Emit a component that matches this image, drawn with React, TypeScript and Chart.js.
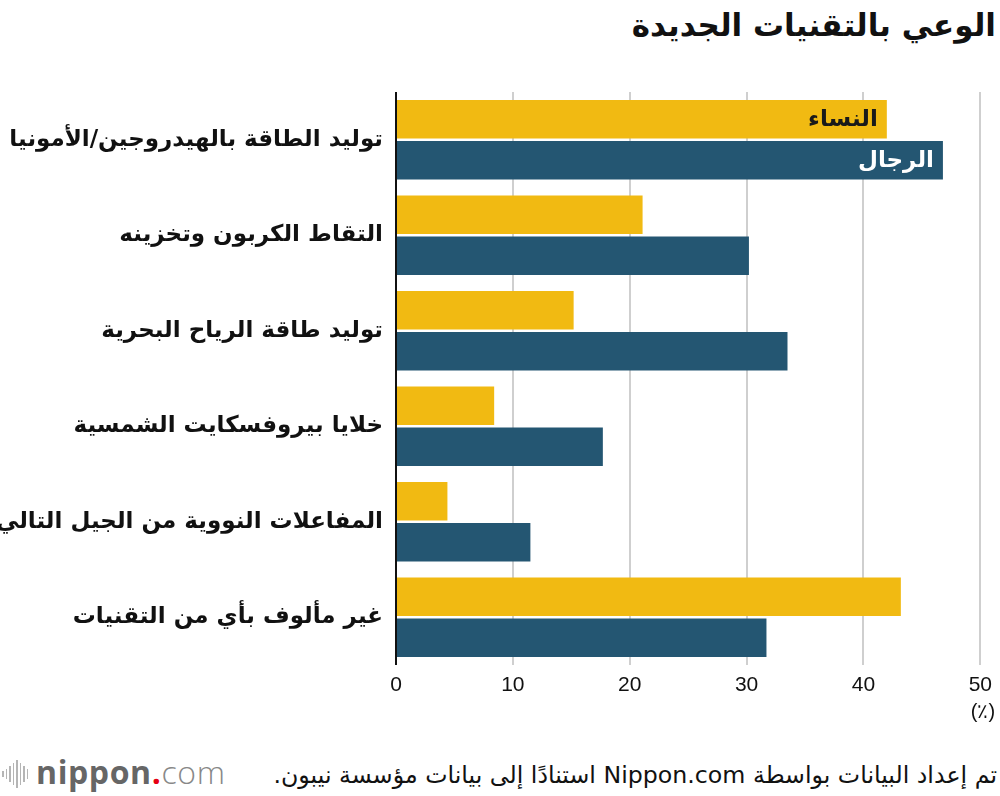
import React, { useEffect, useRef } from "react";
import { Chart, registerables } from "chart.js";

Chart.register(...registerables);

const categories = [
  "توليد الطاقة بالهيدروجين/الأمونيا",
  "التقاط الكربون وتخزينه",
  "توليد طاقة الرياح البحرية",
  "خلايا بيروفسكايت الشمسية",
  "المفاعلات النووية من الجيل التالي",
  "غير مألوف بأي من التقنيات",
];
const seriesNames = ["النساء", "الرجال"];
const womenValues = [42.0, 21.1, 15.2, 8.4, 4.4, 43.2];
const menValues = [46.8, 30.2, 33.5, 17.7, 11.5, 31.7];
const xTickValues = [0, 10, 20, 30, 40, 50];

const YELLOW = "#F1BA12";
const BLUE = "#245672";

const CANVAS_W = 1000;
const CANVAS_H = 720;
const AREA_LEFT = 396;
const AREA_TOP = 92;
const AREA_BOTTOM = 665;

const barLabelPlugin = {
  id: "barLabels",
  afterDatasetsDraw(chart: any) {
    const ctx = chart.ctx;
    ctx.save();
    ctx.font = "bold 23px 'DejaVu Sans'";
    ctx.textAlign = "right";
    ctx.textBaseline = "middle";
    chart.data.datasets.forEach((ds: any, i: number) => {
      const meta = chart.getDatasetMeta(i);
      const bar = meta.data[0];
      if (!bar) return;
      ctx.fillStyle = i === 0 ? "#1a1a1a" : "#ffffff";
      ctx.fillText(ds.label, bar.x - 9, bar.y + 1);
    });
    ctx.restore();
  },
};

function BarChart() {
  const ref = useRef<HTMLCanvasElement>(null);
  useEffect(() => {
    if (!ref.current) return;
    const chart = new Chart(ref.current, {
      type: "bar",
      data: {
        labels: categories,
        datasets: [
          {
            label: seriesNames[0],
            data: womenValues,
            backgroundColor: YELLOW,
            barPercentage: 0.94,
            categoryPercentage: 0.86,
          },
          {
            label: seriesNames[1],
            data: menValues,
            backgroundColor: BLUE,
            barPercentage: 0.94,
            categoryPercentage: 0.86,
          },
        ],
      },
      options: {
        indexAxis: "y",
        animation: false,
        responsive: false,
        devicePixelRatio: 1,
        layout: { padding: { top: AREA_TOP, right: 16, left: 0, bottom: 0 } },
        plugins: {
          legend: { display: false },
          tooltip: { enabled: false },
          title: { display: false },
        },
        scales: {
          x: {
            type: "linear",
            position: "bottom",
            min: 0,
            max: 50,
            afterBuildTicks: (scale: any) => {
              scale.ticks = xTickValues.map((v) => ({ value: v }));
            },
            afterFit: (scale: any) => {
              scale.height = CANVAS_H - AREA_BOTTOM;
            },
            ticks: {
              color: "#111",
              padding: 8,
              font: { family: "'Liberation Sans', Arial", size: 21 },
              maxRotation: 0,
            },
            grid: {
              drawTicks: false,
              color: (c: any) => (c.tick && c.tick.value === 0 ? "#111" : "#cfcfcf"),
              lineWidth: 2,
            },
            border: { display: false },
          },
          y: {
            type: "category",
            afterFit: (scale: any) => {
              scale.width = AREA_LEFT;
            },
            ticks: {
              color: "#111",
              padding: 13,
              font: { family: "'DejaVu Sans'", size: 23, weight: "bold" },
            },
            grid: { display: false, drawTicks: false },
            border: { display: false },
          },
        },
      },
      plugins: [barLabelPlugin],
    } as any);
    return () => chart.destroy();
  }, []);
  return (
    <canvas
      ref={ref}
      width={CANVAS_W}
      height={CANVAS_H}
      style={{ position: "absolute", left: 0, top: 0, width: CANVAS_W, height: CANVAS_H }}
    />
  );
}

const logoBars = [6, 10, 16, 22, 28, 22, 16, 10];

export default function App() {
  return (
    <div
      style={{
        position: "absolute",
        left: 0,
        top: 0,
        width: 1000,
        height: 796,
        background: "#fff",
        overflow: "hidden",
        fontFamily: "'DejaVu Sans', sans-serif",
      }}
    >
      <div
        dir="rtl"
        style={{
          position: "absolute",
          right: 4,
          top: 3,
          fontSize: 31,
          fontWeight: "bold",
          color: "#111",
          whiteSpace: "nowrap",
          lineHeight: "44px",
        }}
      >
        الوعي بالتقنيات الجديدة
      </div>
      <BarChart />
      <div
        style={{
          position: "absolute",
          left: 960,
          width: 46,
          top: 699,
          textAlign: "center",
          fontSize: 20,
          fontFamily: "'Liberation Sans', Arial",
          color: "#111",
          lineHeight: "24px",
        }}
      >
        (٪)
      </div>
      <div
        dir="rtl"
        style={{
          position: "absolute",
          right: 3,
          top: 760,
          fontSize: 23.7,
          color: "#111",
          whiteSpace: "nowrap",
          lineHeight: "30px",
        }}
      >
        تم إعداد البيانات بواسطة Nippon.com استنادًا إلى بيانات مؤسسة نيبون.
      </div>
      <div
        style={{
          position: "absolute",
          left: 2,
          top: 756,
          height: 36,
          display: "flex",
          alignItems: "center",
          gap: 2,
        }}
      >
        {logoBars.map((h, i) => (
          <div key={i} style={{ width: 1.5, height: h, background: "#b5b5b5" }} />
        ))}
      </div>
      <div
        style={{
          position: "absolute",
          left: 36,
          top: 752,
          fontFamily: "'Open Sans', 'Liberation Sans', sans-serif",
          fontSize: 32,
          lineHeight: "40px",
          whiteSpace: "nowrap",
          letterSpacing: 0.6,
        }}
      >
        <span style={{ fontWeight: "bold", color: "#666" }}>nippon</span>
        <span style={{ fontWeight: "bold", color: "#e60012" }}>.</span>
        <span style={{ fontWeight: 300, color: "#888" }}>com</span>
      </div>
    </div>
  );
}
